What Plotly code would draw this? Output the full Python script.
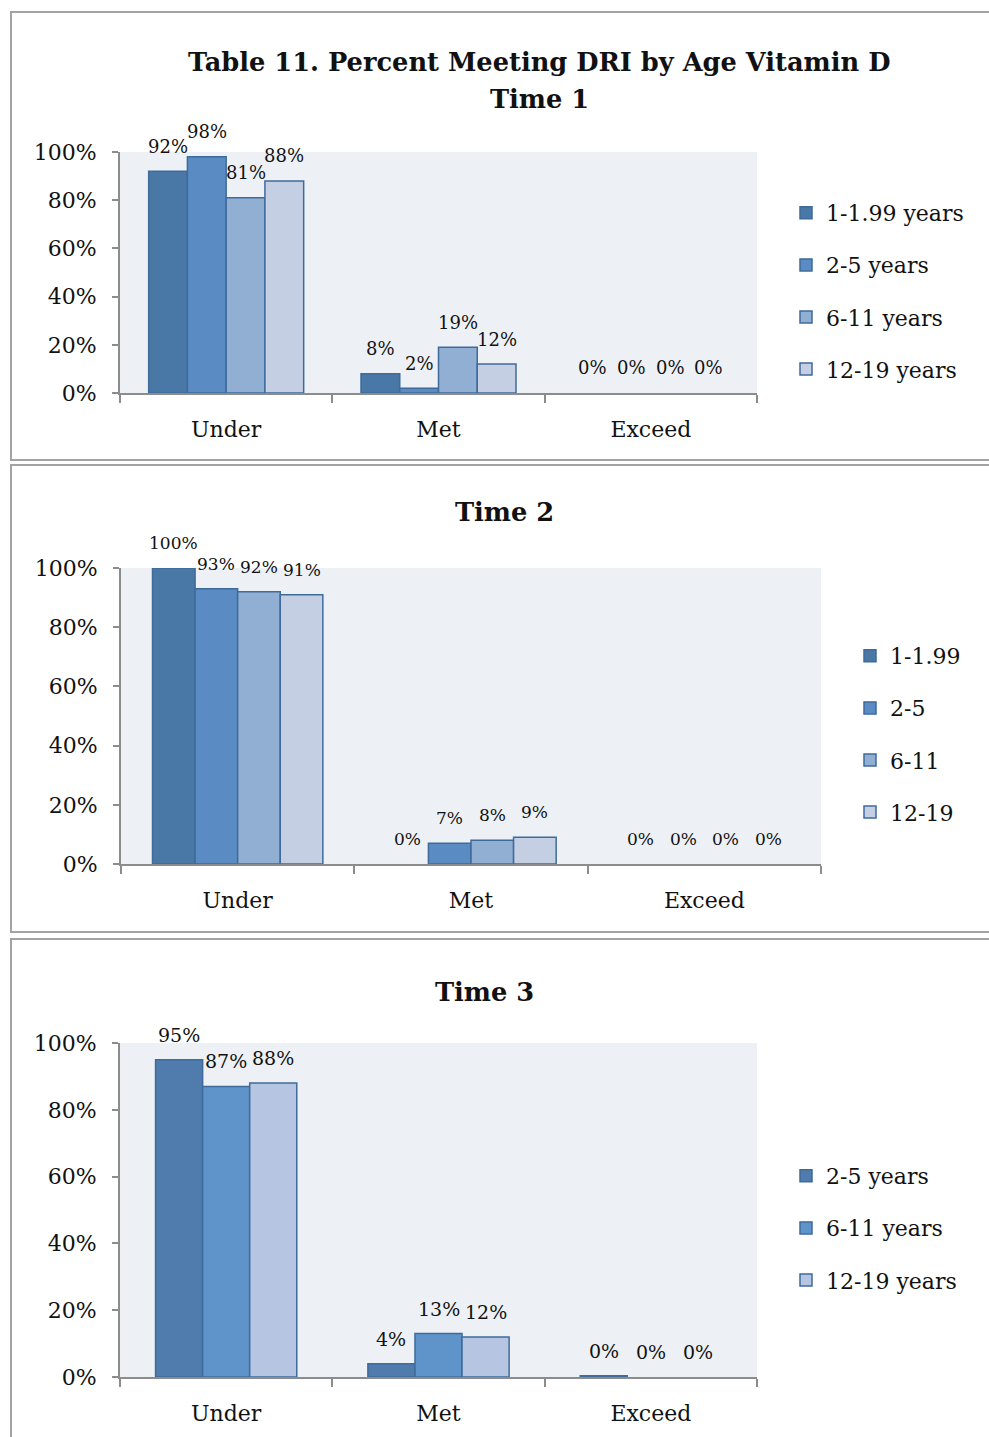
import plotly.graph_objects as go

W, H = 989, 1437

# ---- data -------------------------------------------------------------
categories = ["Under", "Met", "Exceed"]

t1_series = ["1-1.99 years", "2-5 years", "6-11 years", "12-19 years"]
t1_values = [
    [92, 8, 0],
    [98, 2, 0],
    [81, 19, 0],
    [88, 12, 0],
]

t2_series = ["1-1.99", "2-5", "6-11", "12-19"]
t2_values = [
    [100, 0, 0],
    [93, 7, 0],
    [92, 8, 0],
    [91, 9, 0],
]

t3_series = ["2-5 years", "6-11 years", "12-19 years"]
t3_values = [
    [95, 4, 0.4],
    [87, 13, 0],
    [88, 12, 0],
]

y_ticks = [0, 20, 40, 60, 80, 100]

# ---- style ------------------------------------------------------------
FONT = "DejaVu Serif"
colors4 = ["#4A78A6", "#5A8BC2", "#91AED3", "#C4CFE4"]
colors3 = ["#4F7CAC", "#5F94CA", "#B6C5E1"]
OUTLINE = "#3F6B9B"
AXIS = "#8C8C8C"
BG = "#EDF1F6"


def px_x(p):
    return p / W


def px_y(p):
    return 1 - p / H


# panel geometry in pixels: (left, right, top, bottom)
panels = [
    dict(l=120, r=757, t=152, b=393, lab=18),
    dict(l=121, r=821, t=568, b=864, lab=17),
    dict(l=120, r=757, t=1043, b=1377, lab=19),
]

fig = go.Figure()
annotations = []

BARGAP = 0.27


def add_panel(idx, series, values, colors, legend_name, group_frac=None):
    p = panels[idx]
    xa = "x" if idx == 0 else f"x{idx + 1}"
    ya = "y" if idx == 0 else f"y{idx + 1}"
    n = len(series)
    cat_px = (p["r"] - p["l"]) / len(categories)
    frac = (1 - BARGAP) if group_frac is None else group_frac
    w = frac / n
    for i, (name, vals) in enumerate(zip(series, values)):
        kw = {}
        if group_frac is not None:
            kw = dict(width=w, offset=-frac / 2 + i * w)
        # zero-height bars get no outline so nothing is drawn for them
        line_w = [1.5 if v > 0 else 0 for v in vals]
        fig.add_trace(go.Bar(
            x=categories, y=vals, name=name,
            xaxis=xa, yaxis=ya,
            marker=dict(color=colors[i], line=dict(color=OUTLINE, width=line_w)),
            legend=legend_name, legendgroup=f"{legend_name}_{i}",
            hoverinfo="skip",
            **kw,
        ))
        shift = (-frac / 2 + (i + 0.5) * w) * cat_px
        for c, v in zip(categories, vals):
            annotations.append(dict(
                x=c, y=v, xref=xa, yref=ya, text=f"{round(v)}%",
                showarrow=False, xshift=shift, yshift=25,
                xanchor="center", yanchor="middle",
                font=dict(family=FONT, size=p["lab"], color="#111"),
            ))


add_panel(0, t1_series, t1_values, colors4, "legend")
add_panel(1, t2_series, t2_values, colors4, "legend2")
add_panel(2, t3_series, t3_values, colors3, "legend3", group_frac=0.665)

layout = dict(
    width=W, height=H,
    margin=dict(l=0, r=0, t=0, b=0, autoexpand=False),
    paper_bgcolor="white",
    plot_bgcolor=BG,
    barmode="group",
    bargap=BARGAP,
    bargroupgap=0,
    font=dict(family=FONT, size=22, color="#111"),
    showlegend=True,
)

for idx, p in enumerate(panels):
    sx = "" if idx == 0 else str(idx + 1)
    layout[f"xaxis{sx}"] = dict(
        domain=[px_x(p["l"]), px_x(p["r"])],
        anchor=f"y{sx}",
        type="category",
        showline=True, linecolor=AXIS, linewidth=2,
        ticks="outside", tickson="boundaries", ticklen=8,
        tickcolor=AXIS, tickwidth=2,
        showgrid=False, zeroline=False,
        tickfont=dict(family=FONT, size=22, color="#111"),
        ticklabelstandoff=16,
        automargin=False,
        fixedrange=True,
    )
    layout[f"yaxis{sx}"] = dict(
        domain=[px_y(p["b"]), px_y(p["t"])],
        anchor=f"x{sx}",
        range=[0, 100],
        tickvals=y_ticks, ticktext=[f"{v}%" for v in y_ticks],
        showline=True, linecolor=AXIS, linewidth=2,
        ticks="outside", ticklen=6, tickcolor=AXIS, tickwidth=2,
        showgrid=False, zeroline=False,
        tickfont=dict(family=FONT, size=22, color="#111"),
        ticklabelstandoff=11,
        automargin=False,
        fixedrange=True,
    )

legend_common = dict(
    font=dict(family=FONT, size=22, color="#111"),
    tracegroupgap=20.5,
    bgcolor="rgba(0,0,0,0)",
    xanchor="left", yanchor="top",
    itemclick=False, itemdoubleclick=False,
)
layout["legend"] = dict(legend_common, x=px_x(786), y=px_y(192))
layout["legend2"] = dict(legend_common, x=px_x(850), y=px_y(635))
layout["legend3"] = dict(legend_common, x=px_x(786), y=px_y(1155))

# chart titles
title_font = dict(family=FONT, size=25.7, color="#111", weight="bold")
for text, cx, cy in [
    ("Table 11. Percent Meeting DRI by Age Vitamin D", 539, 62),
    ("Time 1", 539, 99),
    ("Time 2", 505, 512),
    ("Time 3", 484, 992),
]:
    annotations.append(dict(
        x=px_x(cx), y=px_y(cy), xref="paper", yref="paper", text=text,
        showarrow=False, xanchor="center", yanchor="middle", font=title_font,
    ))

# chart area frames
shapes = []
for top, bottom in [(12, 460), (465, 932), (939, 1450)]:
    shapes.append(dict(
        type="rect", xref="paper", yref="paper",
        x0=px_x(11), x1=px_x(1000), y0=px_y(bottom), y1=px_y(top),
        line=dict(color="#A3A3A3", width=2), fillcolor="rgba(0,0,0,0)",
        layer="below",
    ))

layout["annotations"] = annotations
layout["shapes"] = shapes
fig.update_layout(**layout)

fig.write_html("out.html", config={"displayModeBar": False})
